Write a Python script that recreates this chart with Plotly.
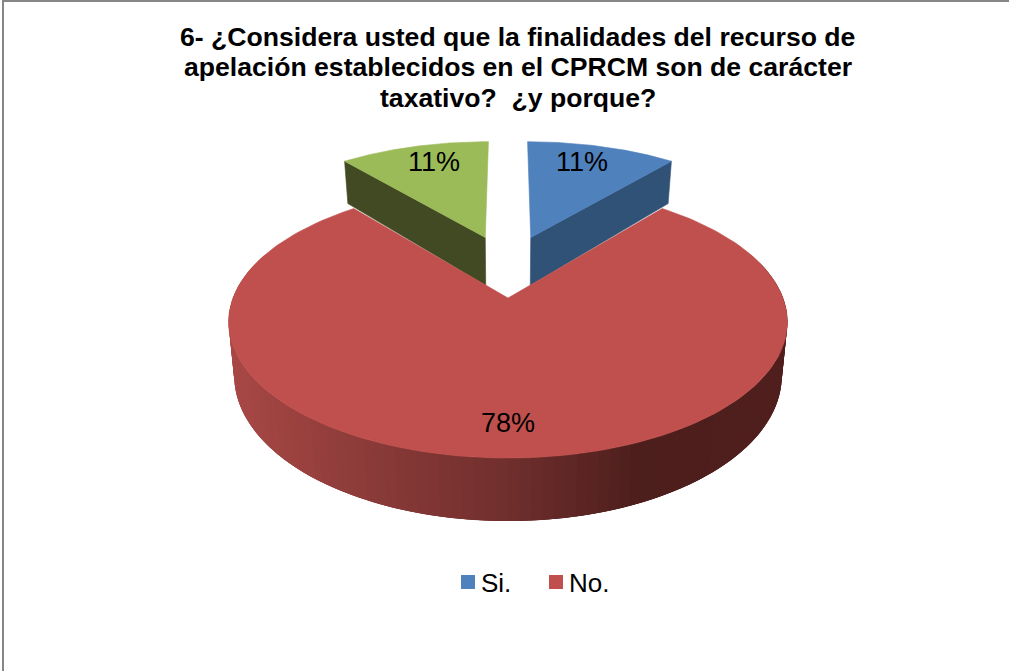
import numpy as np
import plotly.graph_objects as go

# Survey answers, in percent, clockwise from twelve o'clock
categories = ["Si.", "No.", ""]
shares = [11, 78, 11]
title_lines = [
    "6- ¿Considera usted que la finalidades del recurso de",
    "apelación establecidos en el CPRCM son de carácter",
    "taxativo?  ¿y porque?",
]

TOP = ["#4F81BD", "#C0504D", "#9BBB59"]
CUT_FACE = ["#315277", "#000000", "#414A22"]
EXPLODE = [(0.09, 0.50), (0.0, 0.0), (-0.09, 0.50)]
FONT = "Liberation Sans, Arial, sans-serif"

# Perspective camera for the tilted disc, in pixel units of the axes
CX, CY = 508.0, 298.0
SCALE_X, SCALE_Y = 275.0, 131.8
PERSPECTIVE = 0.1765
DEPTH = 51.9
BOTTOM_SHRINK = 0.98

# Wall shading across the width of the pie: (x, r, g, b)
WALL_STOPS = np.array([
    [229, 168, 72, 69],
    [400, 132, 56, 54],
    [508, 112, 47, 45],
    [640, 76, 30, 28],
    [787, 80, 31, 29],
], dtype=float)


def project(X, Y, bottom=False):
    w = 1 + PERSPECTIVE * np.asarray(Y, dtype=float)
    sx = SCALE_X * np.asarray(X, dtype=float) / w
    sy = CY - SCALE_Y * np.asarray(Y, dtype=float) / w
    if bottom:
        return CX + BOTTOM_SHRINK * sx, sy + DEPTH / w
    return CX + sx, sy


def rim(a0, a1, offset, n):
    t = np.radians(np.linspace(a0, a1, n))
    return offset[0] + np.sin(t), offset[1] + np.cos(t)


def wall_colour(x):
    c = [np.interp(x, WALL_STOPS[:, 0], WALL_STOPS[:, i]) for i in (1, 2, 3)]
    return "rgb({:.0f},{:.0f},{:.0f})".format(*c)


def polygon(xs, ys, colour, edge=0.6):
    return go.Scatter(
        x=xs, y=ys, mode="lines", fill="toself", fillcolor=colour,
        line=dict(color=colour, width=edge), hoverinfo="skip", showlegend=False,
    )


fig = go.Figure()

# Slice extents in degrees
edges = np.concatenate([[0], np.cumsum(shares)]) * 3.6
spans = list(zip(edges[:-1], edges[1:]))

# The two small back slices go first, then the large slice over them
for i in (2, 0, 1):
    a0, a1 = spans[i]
    off = EXPLODE[i]
    if i != 1:
        # Radial cut face that looks towards the viewer
        a_face = a1 if i == 0 else a0
        fx = np.array([off[0], off[0] + np.sin(np.radians(a_face))])
        fy = np.array([off[1], off[1] + np.cos(np.radians(a_face))])
        tx, ty = project(fx, fy)
        bx, by = project(fx, fy, bottom=True)
        fig.add_trace(polygon(
            list(tx) + list(bx[::-1]) + [tx[0]],
            list(ty) + list(by[::-1]) + [ty[0]],
            CUT_FACE[i],
        ))
    else:
        # Outer wall: overlapping strips, so no seams show between shades
        rx, ry = rim(a0, a1, off, 281)
        tx, ty = project(rx, ry)
        bx, by = project(rx, ry, bottom=True)
        step, reach = 2, 6
        for j in range(0, len(rx) - 1, step):
            k = min(j + reach, len(rx) - 1)
            if ry[j] > 0.25 and ry[k] > 0.25:
                continue
            fig.add_trace(polygon(
                np.r_[tx[j:k + 1], bx[j:k + 1][::-1], tx[j]],
                np.r_[ty[j:k + 1], by[j:k + 1][::-1], ty[j]],
                wall_colour((tx[j] + tx[j + step]) / 2),
                edge=0,
            ))
    # Top face of the slice
    rx, ry = rim(a0, a1, off, 181)
    px, py = project(np.r_[off[0], rx, off[0]], np.r_[off[1], ry, off[1]])
    fig.add_trace(polygon(px, py, TOP[i]))

# Percentage labels sit part way out along each slice's middle angle
annotations = []
for i, share in enumerate(shares):
    mid = np.radians(sum(spans[i]) / 2)
    lx, ly = project(EXPLODE[i][0] + 0.71 * np.sin(mid), EXPLODE[i][1] + 0.81 * np.cos(mid))
    annotations.append(dict(
        x=float(lx), y=float(ly), text=f"{share}%", showarrow=False,
        font=dict(family=FONT, size=27, color="#000000"),
    ))

# Chart title, one annotation per line for tight leading
for line, y in zip(title_lines, (37, 67, 98)):
    annotations.append(dict(
        x=517.5, y=y, text=f"<b>{line}</b>", showarrow=False,
        font=dict(family=FONT, size=26.6, color="#000000"),
    ))

# Key for the first two categories
for name, colour, kx in zip(categories[:2], TOP[:2], (468, 556)):
    fig.add_trace(go.Scatter(
        x=[kx], y=[582], mode="markers", hoverinfo="skip", showlegend=False,
        marker=dict(symbol="square", size=14, color=colour),
    ))
    annotations.append(dict(
        x=kx + 11, y=583, text=name, showarrow=False, xanchor="left",
        font=dict(family=FONT, size=26, color="#000000"),
    ))

fig.update_layout(
    width=1009, height=671,
    margin=dict(l=0, r=0, t=0, b=0),
    paper_bgcolor="white", plot_bgcolor="white",
    showlegend=False,
    annotations=annotations,
    xaxis=dict(range=[0, 1009], visible=False, fixedrange=True),
    yaxis=dict(range=[671, 0], visible=False, fixedrange=True),
    # Frame runs along the top and left edges only
    shapes=[
        dict(type="line", x0=3, y0=0, x1=3, y1=671,
             line=dict(color="#868686", width=2), layer="below"),
        dict(type="line", x0=2, y0=1, x1=1009, y1=1,
             line=dict(color="#868686", width=2), layer="below"),
    ],
)

fig.write_html("out.html", config=dict(displayModeBar=False))
